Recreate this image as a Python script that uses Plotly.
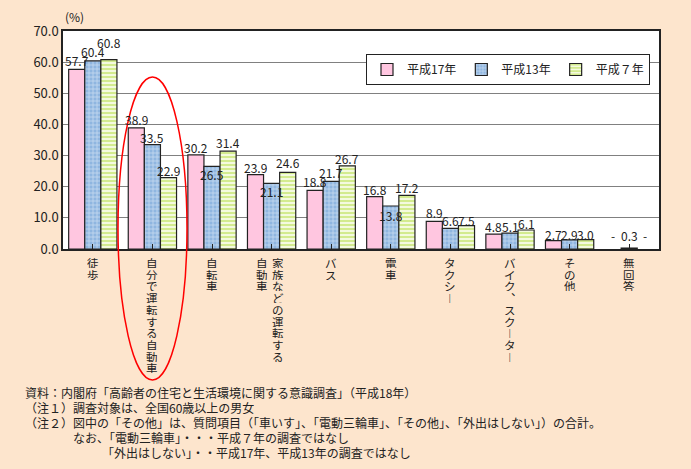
import plotly.graph_objects as go

# data
categories = ['徒歩', '自分で運転する自動車', '自転車', '家族などの運転する自動車', 'バス',
              '電車', 'タクシー', 'バイク、スクーター', 'その他', '無回答']
# vertical label columns (right-to-left reading order)
label_cols = [['徒歩'], ['自分で運転する自動車'], ['自転車'], ['家族などの運転する', '自動車'], ['バス'],
              ['電車'], ['タクシ︱'], ['バイク︑スク︱タ︱'], ['その他'], ['無回答']]
series_names = ['平成17年', '平成13年', '平成７年']
h17 = [57.7, 38.9, 30.2, 23.9, 18.8, 16.8, 8.9, 4.8, 2.7, 0]
h13 = [60.4, 33.5, 26.5, 21.1, 21.7, 13.8, 6.6, 5.1, 2.9, 0.3]
h7 = [60.8, 22.9, 31.4, 24.6, 26.7, 17.2, 7.5, 6.1, 3.0, 0]
h17_text = ['57.7', '38.9', '30.2', '23.9', '18.8', '16.8', '8.9', '4.8', '2.7', '-']
h13_text = ['60.4', '33.5', '26.5', '21.1', '21.7', '13.8', '6.6', '5.1', '2.9', '0.3']
h7_text = ['60.8', '22.9', '31.4', '24.6', '26.7', '17.2', '7.5', '6.1', '3.0', '-']

# vertical nudge of each value label (px above bar top), as in the original
dy17 = [9, 9, 8, 8, 9, 8, 9, 8, 7, 14]
dy13 = [10, 8, -8, -8, 9, -9, 8, 7, 6, 13]
dy7 = [18, 8, 9, 10, 8, 8, 6, 7, 6, 14]

notes = ['資料：内閣府「高齢者の住宅と生活環境に関する意識調査」（平成18年）',
         '（注１）調査対象は、全国60歳以上の男女',
         '（注２）図中の「その他」は、質問項目（「車いす」、「電動三輪車」、「その他」、「外出はしない」）の合計。',
         'なお、「電動三輪車」・・・平成７年の調査ではなし',
         '「外出はしない」・・平成17年、平成13年の調査ではなし']
note_x = [24, 24, 24, 72, 101]

FONT = 'Noto Sans CJK JP'
BG = '#FDE5CD'
W, H = 691, 469
L, R, T, B = 63, 659, 31, 249
BARGAP = 0.19
BAR_PX = (R - L) / len(categories) * (1 - BARGAP) / 3


def px(x):
    return (x - L) / (R - L)


def py(y):
    return (B - y) / (B - T)


xs = list(range(len(categories)))
fig = go.Figure()
markers = [
    dict(color='#FFC6E0'),
    dict(color='#8FB6E0', pattern=dict(shape='+', fgcolor='white', bgcolor='#8FB6E0',
                                       size=4, solidity=0.35)),
    dict(color='#B8DE50', pattern=dict(shape='-', fgcolor='#B2DC40', bgcolor='#F4FADF',
                                       size=4, solidity=0.5)),
]
values = [h17, h13, h7]
texts = [h17_text, h13_text, h7_text]
nudges = [dy17, dy13, dy7]

for s, (name, vals, mk) in enumerate(zip(series_names, values, markers)):
    lw = [0 if v == 0 else 1.2 for v in vals]
    fig.add_trace(go.Bar(x=xs, y=vals, name=name,
                         marker=dict(line=dict(color='#222', width=lw), **mk)))
    # value labels
    for i, (v, t, d) in enumerate(zip(vals, texts[s], nudges[s])):
        fig.add_annotation(x=i, y=v, xref='x', yref='y', text=t, showarrow=False,
                           xshift=(s - 1) * BAR_PX, yshift=d, yanchor='middle',
                           height=12, borderpad=0,
                           font=dict(size=12, color='#222', family=FONT))

# vertical category labels, one character per line
for i, cols in enumerate(label_cols):
    n = len(cols)
    for j, col in enumerate(cols):
        xshift = 6 - 16 * j if n > 1 else 0
        for k, ch in enumerate(col):
            fig.add_annotation(x=i, y=0, xref='x', yref='paper', text=ch, showarrow=False,
                               xshift=xshift, yshift=-(7 + k * 11.7), yanchor='top',
                               height=11, borderpad=0,
                               font=dict(size=11.5, color='#222', family=FONT))

for i, line in enumerate(notes):
    fig.add_annotation(x=px(note_x[i]), y=py(392 + i * 14.9), xref='paper', yref='paper',
                       text=line, showarrow=False, xanchor='left', yanchor='middle',
                       height=14, borderpad=0,
                       font=dict(size=12, color='#222', family=FONT))

fig.add_annotation(x=px(63), y=py(16), xref='paper', yref='paper', text='(%)',
                   showarrow=False, yanchor='middle',
                   font=dict(size=12, color='#222', family=FONT))

# red ellipse around 自分で運転する自動車
fig.add_shape(type='circle', xref='paper', yref='paper',
              x0=px(118), x1=px(187), y0=py(380), y1=py(77),
              line=dict(color='red', width=1.5))

fig.update_layout(
    width=W, height=H,
    margin=dict(l=L, r=W - R, t=T, b=H - B),
    paper_bgcolor=BG, plot_bgcolor='white',
    font=dict(family=FONT, size=12, color='#222'),
    barmode='group', bargap=BARGAP, bargroupgap=0,
    showlegend=True,
    legend=dict(orientation='h', x=px(366), y=py(54), xanchor='left', yanchor='top',
                bgcolor='white', bordercolor='#222', borderwidth=1,
                font=dict(size=12, family=FONT), itemwidth=30,
                tracegroupgap=0),
)
fig.update_xaxes(range=[-0.5, 9.5], tickvals=xs, ticktext=[''] * len(xs),
                 ticks='inside', tickson='boundaries', ticklen=5, tickcolor='#222',
                 showline=True, linecolor='#222', linewidth=1.5, mirror=True,
                 showgrid=False)
fig.update_yaxes(range=[0, 70], dtick=10, tickformat='.1f', showline=True,
                 linecolor='#222', linewidth=1.5, mirror=True,
                 gridcolor='#808080', gridwidth=1, ticks='',
                 tickfont=dict(size=13, family=FONT))

fig.write_html('out.html', config={'displayModeBar': False},
               post_script="document.body.style.margin='0';")
